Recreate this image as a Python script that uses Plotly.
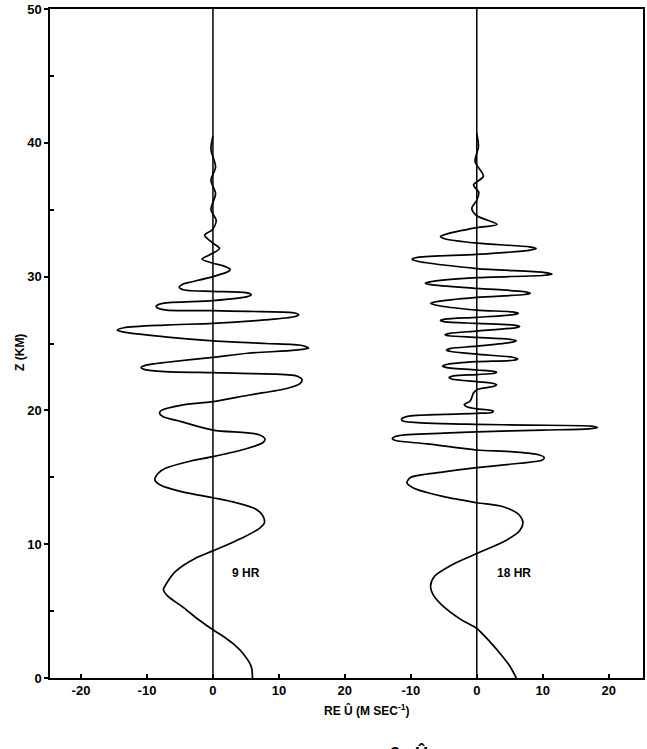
import plotly.graph_objects as go

# ---- data ----
z_9hr = [0, 0.87, 1.87, 2.6, 3.16, 3.6, 4.35, 5.35, 6.1, 6.6, 7.1, 7.95, 8.95, 9.5, 10.56,
         11.2, 11.6, 12.1, 12.6, 13.1, 13.47, 13.93, 14.4, 14.8, 15.3, 15.67, 16.2, 16.54,
         17.17, 17.6, 17.85, 18.2, 18.53, 19.16, 19.55, 19.8, 20.0, 20.4, 20.65, 21.15,
         21.64, 22.0, 22.3, 22.6, 22.75, 22.82, 22.9, 23.05, 23.2, 23.4, 23.6, 23.97, 24.27,
         24.5, 24.65, 24.85, 25.0, 25.2, 25.5, 25.85, 26.0, 26.18, 26.38, 26.5, 26.76, 27.0,
         27.15, 27.3, 27.4, 27.45, 27.5, 27.65, 27.8, 28.0, 28.2, 28.5, 28.65, 28.8, 28.9,
         29.0, 29.2, 29.45, 29.6, 30.0, 30.4, 30.55, 30.8, 31.0, 31.3, 31.6, 32.1, 32.5,
         33.1, 33.5, 34.2, 35.0, 36.2, 37.2, 38.2, 39.5, 40.5]
u_9hr = [6.0, 5.8, 4.5, 2.97, 1.43, 0.0, -2.15, -4.7, -6.8, -7.5, -7.0, -5.7, -2.65, 0.0, 4.8,
         7.1, 7.8, 7.6, 6.6, 3.5, 0.0, -4.8, -7.9, -8.8, -8.3, -7.2, -3.5, 0.0,
         5.3, 7.6, 7.9, 6.9, 0.0, -4.8, -7.6, -8.1, -7.8, -4.7, 0.0, 5.5,
         11.2, 13.2, 13.5, 12.5, 6.0, 0.0, -7.3, -10.3, -10.9, -10.0, -7.0, 0.0, 5.3,
         12.5, 14.5, 13.5, 8.0, 0.0, -7.3, -13.5, -14.5, -13.5, -7.3, 0.0, 7.8, 12.3,
         13.0, 12.2, 5.3, 0.0, -7.0, -8.4, -8.6, -7.6, 0.0, 5.2, 5.8, 5.0, 0.0,
         -4.3, -5.1, -4.5, -3.3, 0.0, 2.4, 2.6, 1.6, 0.0, -1.65, -0.6, 1.0, 0.0,
         -1.25, -0.1, 0.5, -0.3, 0.4, -0.3, 0.4, -0.3, 0.0]

z_18hr = [0, 0.9, 1.8, 2.7, 3.7, 4.4, 5.5, 6.3, 6.9, 7.6, 8.5, 9.3, 10.3, 11.0, 11.6, 12.2,
          12.8, 13.1, 13.55, 14.2, 14.6, 15.0, 15.4, 15.72, 16.05, 16.3, 16.5, 16.7, 16.92,
          17.04, 17.5, 17.75, 17.9, 18.1, 18.3, 18.4, 18.53, 18.62, 18.7, 18.82, 18.9, 18.96,
          19.05, 19.2, 19.35, 19.55, 19.7, 19.78, 19.85, 19.95, 20.05, 20.12, 20.3, 20.45,
          20.7, 21.3, 21.55, 21.8, 21.92, 22.05, 22.15, 22.35, 22.45, 22.58, 22.68, 22.78,
          22.85, 22.93, 23.02, 23.22, 23.32, 23.45, 23.64, 23.75, 23.85, 23.97, 24.2, 24.42,
          24.52, 24.64, 24.8, 25.1, 25.2, 25.3, 25.46, 25.58, 25.66, 25.76, 25.93, 26.17,
          26.27, 26.37, 26.5, 26.64, 26.72, 26.82, 26.96, 27.16, 27.26, 27.36, 27.5, 27.88,
          28.0, 28.12, 28.45, 28.66, 28.76, 28.88, 29.12, 29.4, 29.5, 29.62, 29.92, 30.1,
          30.2, 30.32, 30.6, 31.15, 31.3, 31.45, 31.66, 31.98, 32.1, 32.22, 32.5, 32.85,
          33.0, 33.15, 33.66, 33.9, 34.55, 35.1, 35.7, 36.3, 36.85, 37.5, 38.6, 39.7, 40.7]
u_18hr = [6.0, 5.0, 3.6, 2.0, 0.0, -2.5, -5.4, -6.7, -7.0, -6.4, -3.6, 0.0, 4.5, 6.5, 7.0, 6.4,
          4.0, 0.0, -5.0, -9.6, -10.6, -10.0, -5.0, 0.0, 6.5, 10.0, 10.2, 9.2, 5.0,
          0.0, -7.5, -12.3, -12.8, -12.0, -5.0, 0.0, 10.0, 17.0, 18.3, 17.3, 7.5, 0.0,
          -7.5, -11.2, -11.4, -10.5, -5.0, 0.0, 2.3, 2.5, 1.5, 0.0, -1.6, -1.9,
          -1.0, -0.5, 0.0, 2.6, 3.0, 2.2, 0.0, -3.8, -4.2, -3.5, 0.0, 2.7,
          3.0, 2.4, 0.0, -4.7, -5.2, -4.4, 0.0, 5.6, 6.2, 5.4, 0.0, -4.1,
          -4.6, -3.9, 0.0, 5.4, 6.0, 5.3, 0.0, -4.3, -4.8, -4.1, 0.0, 5.8,
          6.5, 5.7, 0.0, -5.0, -5.5, -4.8, 0.0, 5.6, 6.3, 5.4, 0.0, -6.3,
          -7.0, -6.2, 0.0, 7.3, 8.1, 7.1, 0.0, -7.0, -7.8, -6.9, 0.0, 10.3,
          11.4, 10.1, 0.0, -9.0, -9.8, -8.8, 0.0, 8.1, 9.0, 8.0, 0.0, -5.0,
          -5.5, -4.8, 0.0, 3.1, 0.0, -0.75, 0.0, 0.3, -0.5, 1.0, -0.25, 0.25, 0.0]

panel_labels = ["9 HR", "18 HR"]
panel_offset = [0, 40]          # second profile drawn 40 units to the right
x_tickvals = [-20, -10, 0, 10, 20, 30, 40, 50, 60]
x_ticktext = ["-20", "-10", "0", "10", "20", "-10", "0", "10", "20"]
y_tickvals = [0, 10, 20, 30, 40, 50]

FONT = "Liberation Sans"

fig = go.Figure()
for zz, uu, off in [(z_9hr, u_9hr, panel_offset[0]), (z_18hr, u_18hr, panel_offset[1])]:
    fig.add_trace(go.Scatter(
        x=[u + off for u in uu], y=zz, mode="lines",
        line=dict(color="black", width=1.7, shape="spline", smoothing=0.8),
        showlegend=False, hoverinfo="skip"))

for off in panel_offset:
    fig.add_vline(x=off, line=dict(color="black", width=1.5))

fig.add_annotation(x=5.0, y=7.86, text=panel_labels[0], showarrow=False,
                   font=dict(family=FONT, size=12, color="black", weight="bold"))
fig.add_annotation(x=45.7, y=7.86, text=panel_labels[1], showarrow=False,
                   font=dict(family=FONT, size=12, color="black", weight="bold"))

# axis titles
fig.add_annotation(xref="paper", yref="paper", x=(368 - 50) / 595, y=(678.3 - 720) / 671.3,
                   text="RE Û (M SEC<sup>-1</sup>)", showarrow=False,
                   font=dict(family=FONT, size=12, color="black", weight="bold"))
fig.add_annotation(xref="paper", yref="paper", x=(11 - 50) / 595, y=(678.3 - 352) / 671.3,
                   text="Z (KM)", textangle=-90, showarrow=False,
                   font=dict(family=FONT, size=12, color="black", weight="bold"))
# partially visible caption at bottom edge
fig.add_annotation(xref="paper", yref="paper", x=(410 - 50) / 595, y=(678.3 - 742) / 671.3,
                   yanchor="top", text="2   Û", showarrow=False,
                   font=dict(family=FONT, size=18, color="black", weight="bold"))

fig.update_layout(
    width=647, height=749,
    margin=dict(l=50, r=2, t=7, b=71),
    paper_bgcolor="white", plot_bgcolor="white",
    font=dict(family=FONT, color="black"),
    xaxis=dict(range=[-24.7, 65.2], tickvals=x_tickvals, ticktext=x_ticktext,
               ticks="inside", ticklen=4, tickwidth=1.5, tickcolor="black",
               showgrid=False, zeroline=False, showline=True, linecolor="black",
               linewidth=1.5, mirror=True, ticklabeloverflow="allow",
               tickfont=dict(family=FONT, size=13, color="black", weight="bold")),
    yaxis=dict(range=[0, 50], tickvals=y_tickvals,
               ticks="outside", ticklen=4, tickwidth=1.5, tickcolor="black",
               minor=dict(tickvals=[5, 15, 25, 35, 45], ticks="inside", ticklen=4,
                          tickwidth=1.5, tickcolor="black"),
               showgrid=False, zeroline=False, showline=True, linecolor="black",
               linewidth=1.5, mirror=True, ticklabeloverflow="allow",
               tickfont=dict(family=FONT, size=13, color="black", weight="bold")),
)

fig.write_html("out.html")
